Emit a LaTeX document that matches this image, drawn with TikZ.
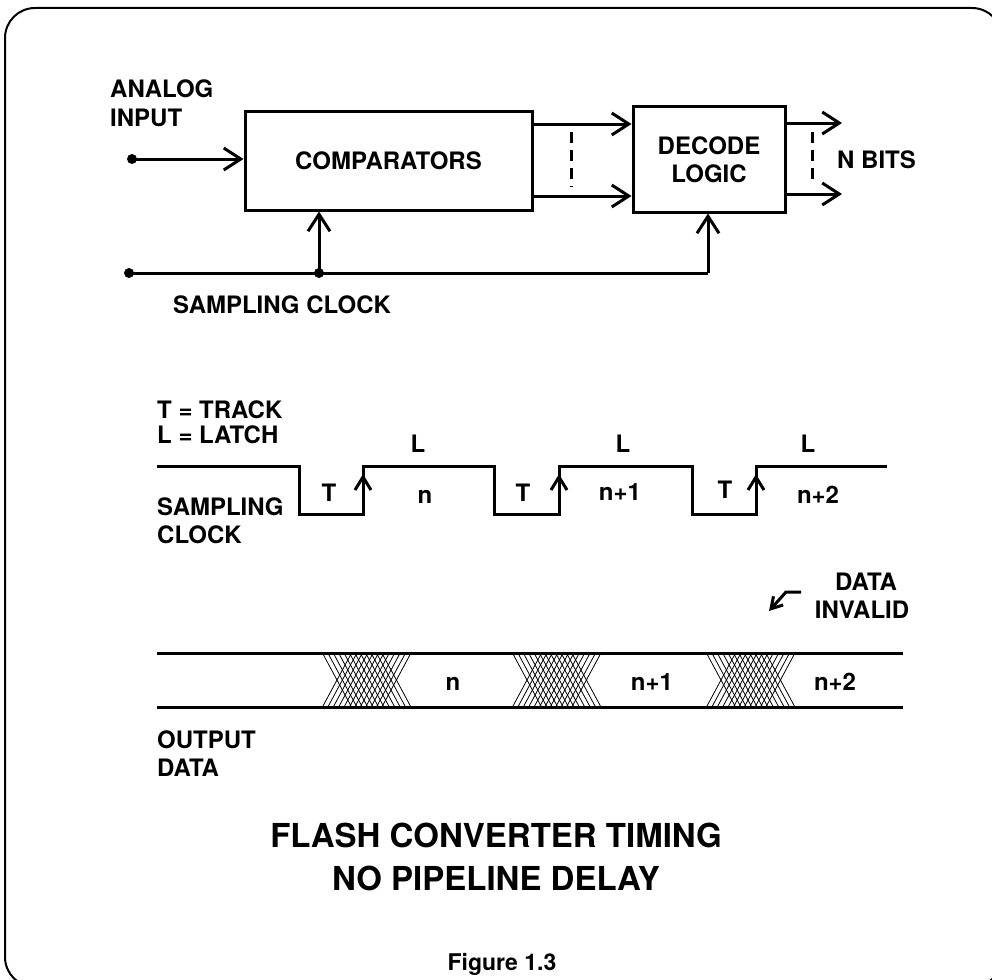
\documentclass[tikz,border=0pt]{standalone}
\usepackage{fontspec}
\setmainfont{TeX Gyre Heros}
\usetikzlibrary{arrows.meta,calc}
\begin{document}
\begin{tikzpicture}[x=1pt,y=-1pt,
  every node/.style={font=\fontsize{24}{29}\selectfont\bfseries, inner sep=0pt},
  lbl/.style={anchor=base west},
  clbl/.style={anchor=base},
  wire/.style={line width=3pt},
  barb/.style={-{Straight Barb[length=17pt,width=22pt]}},
  blk/.style={draw, line width=3pt, align=center},
  hatch/.style={line width=0.8pt},
  dashv/.style={line width=3pt, dash pattern=on 11pt off 7pt}
]
\useasboundingbox (0,0) rectangle (992,979);
% frame
\draw[line width=2pt, rounded corners=30pt] (5,8) rectangle (1002,987);

% ---------- block diagram ----------
\node[blk, minimum width=287pt, minimum height=98pt] (comp) at (388.5,161) {COMPARATORS};
\node[blk, minimum width=152pt, minimum height=105pt, font=\fontsize{24}{28}\selectfont\bfseries] (dec) at (709,159.5) {DECODE\\LOGIC};

\node[lbl] (analog) at (110,98) {ANALOG};
\node[lbl] (input) at (110,127) {INPUT};

\coordinate (ain) at (132,159);
\fill (ain) circle (5);
\draw[wire,barb] (ain) -- (ain -| comp.west);

\coordinate (clk) at (129,273);
\coordinate (jn) at (319,273);
\coordinate (corner) at (708,273);
\fill (clk) circle (5);
\fill (jn) circle (5);
\draw[wire] (clk) -- (jn) -- (corner);
\draw[wire,barb] (jn) -- (jn |- comp.south);
\draw[wire,barb] (corner) -- (corner |- dec.south);

\draw[wire,barb] (comp.east |- 0,124) -- (dec.west |- 0,124);
\draw[wire,barb] (comp.east |- 0,196) -- (dec.west |- 0,196);
\draw[dashv] (571,132) -- (571,187);

\coordinate (o1) at (842,123);
\coordinate (o2) at (842,194);
\draw[wire,barb] (dec.east |- o1) -- (o1);
\draw[wire,barb] (dec.east |- o2) -- (o2);
\draw[dashv] (812,132) -- (812,186);
\node[lbl] (nbits) at (837,168) {N BITS};

\node[lbl] (sclk1) at (173,313) {SAMPLING CLOCK};

% ---------- timing ----------
\node[lbl] (track) at (157,418) {T = TRACK};
\node[lbl] (latch) at (157,443) {L = LATCH};

\draw[wire] (157,466) -- (299,466) -- (299,514) -- (363,514) -- (363,466)
  -- (494,466) -- (494,514) -- (559,514) -- (559,466)
  -- (692,466) -- (692,514) -- (756,514) -- (756,466) -- (887,466);
\foreach \x in {363,559,756}
  \draw[line width=3pt] (\x-8,490) -- (\x,477) -- (\x+8,490);

\node[clbl] (l1) at (418,452) {L};
\node[clbl] (l2) at (623,452) {L};
\node[clbl] (l3) at (808,452) {L};
\node[clbl] (t1) at (329,501) {T};
\node[clbl] (t2) at (523,501) {T};
\node[clbl] (t3) at (725,498) {T};
\node[clbl] (cn1) at (425,503) {n};
\node[clbl] (cn2) at (620,500) {n+1};
\node[clbl] (cn3) at (818,503) {n+2};

\node[lbl] (samp) at (157,515) {SAMPLING};
\node[lbl] (clock) at (157,543) {CLOCK};

% ---------- output data ----------
\node[clbl] (dinv1) at (866,590) {DATA};
\node[clbl] (dinv2) at (862,618) {INVALID};
\coordinate (ia) at (801,592);
\coordinate (ib) at (786,592);
\coordinate (ic) at (769,611);
\draw[line width=3pt, -{Straight Barb[length=11pt,width=13pt]}] (ia) -- (ib) -- (ic);

\draw[wire] (157,653) -- (903,653);
\draw[wire] (157,707) -- (903,707);
\foreach \c in {367,557,751}{
  \foreach \i in {0,...,11}{
    \draw[hatch] (\c-44+\i*5.4,654) -- (\c-16+\i*5.4,706);
    \draw[hatch] (\c-44+\i*5.4,706) -- (\c-16+\i*5.4,654);
  }
}
\node[clbl] (dn1) at (453,690) {n};
\node[clbl] (dn2) at (652,690) {n+1};
\node[clbl] (dn3) at (835,690) {n+2};

\node[lbl] (out1) at (157,748) {OUTPUT};
\node[lbl] (out2) at (157,776) {DATA};

% ---------- titles ----------
\node[clbl, font=\fontsize{33}{40}\selectfont\bfseries] (title1) at (496,847) {FLASH CONVERTER TIMING};
\node[clbl, font=\fontsize{33}{40}\selectfont\bfseries] (title2) at (496,890) {NO PIPELINE DELAY};
\node[clbl, font=\fontsize{23}{27}\selectfont\bfseries] (fig) at (502,970) {Figure 1.3};
\end{tikzpicture}
\end{document}
